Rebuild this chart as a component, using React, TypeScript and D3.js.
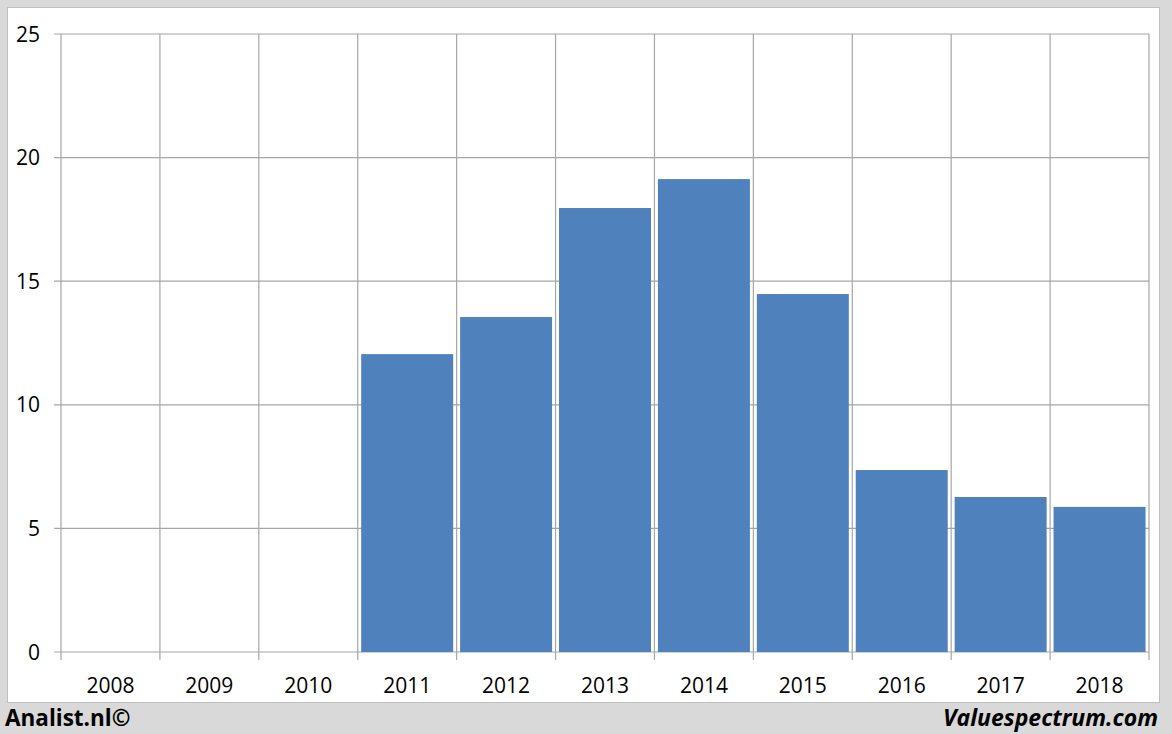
import React, { useEffect, useRef } from 'react';
import * as d3 from 'd3';

const years = ['2008', '2009', '2010', '2011', '2012', '2013', '2014', '2015', '2016', '2017', '2018'];
const values: (number | null)[] = [null, null, null, 12.05, 13.55, 17.96, 19.13, 14.48, 7.36, 6.27, 5.87];
const yTicks = [0, 5, 10, 15, 20, 25];

const W = 1172;
const H = 734;

export default function App() {
  const svgRef = useRef<SVGSVGElement>(null);

  useEffect(() => {
    if (!svgRef.current) return;
    const svg = d3.select(svgRef.current);
    svg.selectAll('*').remove();

    const left = 61;
    const right = 1149;
    const top = 34;
    const bottom = 652;
    const font = 'Open Sans, Lato, sans-serif';

    // background + panel
    svg.append('rect').attr('width', W).attr('height', H).attr('fill', '#d9d9d9');
    svg.append('rect')
      .attr('x', 7.5).attr('y', 7.5).attr('width', 1152).attr('height', 695)
      .attr('fill', '#fff').attr('stroke', '#bfbfbf').attr('stroke-width', 1);

    const x = d3.scaleBand<string>().domain(years).range([left, right]).paddingInner(0.07).paddingOuter(0.035);
    const xEdges = d3.scaleLinear().domain([0, years.length]).range([left, right]);
    const y = d3.scaleLinear().domain([0, 25]).range([bottom, top]);

    // horizontal gridlines
    yTicks.forEach((t) => {
      svg.append('line')
        .attr('x1', left - 7).attr('x2', right)
        .attr('y1', y(t)).attr('y2', y(t))
        .attr('stroke', '#a6a6a6').attr('stroke-width', 1.2);
      svg.append('text')
        .attr('x', 40).attr('y', y(t) + 7.5)
        .attr('text-anchor', 'end')
        .attr('font-family', font).attr('font-size', 21)
        .attr('fill', '#000')
        .text(t);
    });

    // vertical gridlines at category edges
    d3.range(years.length + 1).forEach((i) => {
      svg.append('line')
        .attr('x1', xEdges(i)).attr('x2', xEdges(i))
        .attr('y1', top).attr('y2', bottom + 8)
        .attr('stroke', '#a6a6a6').attr('stroke-width', 1.2);
    });

    // bars
    years.forEach((yr, i) => {
      const v = values[i];
      if (v == null) return;
      svg.append('rect')
        .attr('x', x(yr)!).attr('y', y(v))
        .attr('width', x.bandwidth()).attr('height', y(0) - y(v))
        .attr('fill', '#4f81bd');
    });

    // x labels
    years.forEach((yr) => {
      svg.append('text')
        .attr('x', x(yr)! + x.bandwidth() / 2).attr('y', 693)
        .attr('text-anchor', 'middle')
        .attr('font-family', font).attr('font-size', 21)
        .attr('fill', '#000')
        .text(yr);
    });

    // footer
    svg.append('text')
      .attr('x', 5).attr('y', 726)
      .attr('font-family', font).attr('font-size', 22.5).attr('font-weight', 'bold')
      .attr('fill', '#000')
      .text('Analist.nl©');
    svg.append('text')
      .attr('x', 1158).attr('y', 726)
      .attr('text-anchor', 'end')
      .attr('font-family', font).attr('font-size', 23).attr('font-weight', 'bold').attr('font-style', 'italic')
      .attr('fill', '#000')
      .text('Valuespectrum.com');
  }, []);

  return <svg ref={svgRef} width={W} height={H} style={{ display: 'block', position: 'absolute', left: 0, top: 0 }} />;
}
